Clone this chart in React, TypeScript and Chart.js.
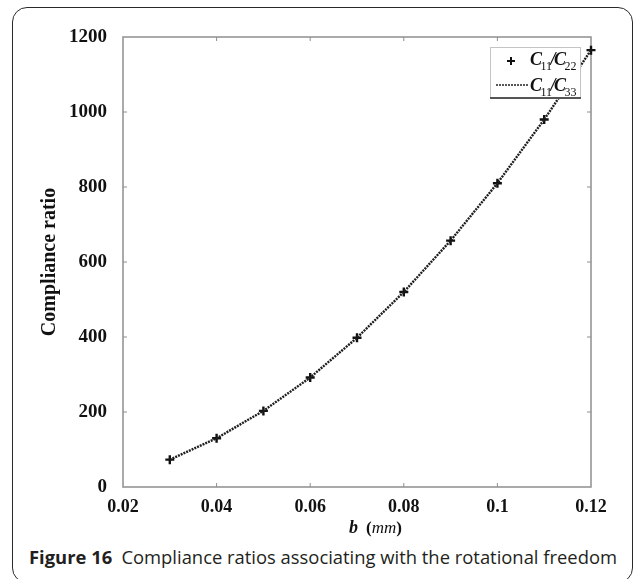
import React, { useEffect, useRef } from "react";
import { Chart, registerables } from "chart.js";

Chart.register(...registerables);

const bValues = [0.03, 0.04, 0.05, 0.06, 0.07, 0.08, 0.09, 0.1, 0.11, 0.12];
const ratioC11C22 = [73, 130, 203, 292, 398, 520, 657, 810, 980, 1165];
const ratioC11C33 = [73, 130, 203, 292, 398, 520, 657, 810, 980, 1165];
const xTicks = [0.02, 0.04, 0.06, 0.08, 0.1, 0.12];
const xTickLabels = ["0.02", "0.04", "0.06", "0.08", "0.1", "0.12"];
const yTicks = [0, 200, 400, 600, 800, 1000, 1200];
const yTickLabels = ["0", "200", "400", "600", "800", "1000", "1200"];

const SERIF = "'Liberation Serif', 'Times New Roman', serif";

function drawRatio(ctx: CanvasRenderingContext2D, x: number, y: number, sub1: string, sub2: string) {
  const big = `italic bold 18px ${SERIF}`;
  const small = `12px ${SERIF}`;
  ctx.textBaseline = "alphabetic";
  ctx.textAlign = "left";
  let cx = x;
  ctx.font = big;
  ctx.fillText("C", cx, y);
  cx += ctx.measureText("C").width - 1.5;
  ctx.font = small;
  ctx.fillText(sub1, cx, y + 5);
  cx += ctx.measureText(sub1).width - 1.5;
  ctx.font = big;
  ctx.fillText("/", cx, y);
  cx += ctx.measureText("/").width - 1.5;
  ctx.fillText("C", cx, y);
  cx += ctx.measureText("C").width - 1.5;
  ctx.font = small;
  ctx.fillText(sub2, cx, y + 5);
}

const decorPlugin = {
  id: "decor",
  beforeDatasetsDraw(chart: any) {
    const { ctx, chartArea, scales } = chart;
    const { left, right, top, bottom } = chartArea;
    const xs = scales.x;
    const ys = scales.y;
    ctx.save();
    ctx.strokeStyle = "#8e8e8e";
    ctx.lineWidth = 1.5;
    ctx.strokeRect(left, top, right - left, bottom - top);
    ctx.lineWidth = 1;
    ctx.beginPath();
    xs.ticks.forEach((t: any) => {
      const px = xs.getPixelForValue(t.value);
      if (px <= left + 1 || px >= right - 1) return;
      ctx.moveTo(px, bottom);
      ctx.lineTo(px, bottom - 4);
      ctx.moveTo(px, top);
      ctx.lineTo(px, top + 4);
    });
    ys.ticks.forEach((t: any) => {
      const py = ys.getPixelForValue(t.value);
      if (py >= bottom - 1 || py <= top + 1) return;
      ctx.moveTo(left, py);
      ctx.lineTo(left + 4, py);
      ctx.moveTo(right, py);
      ctx.lineTo(right - 4, py);
    });
    ctx.stroke();
    ctx.restore();
  },
  afterDraw(chart: any) {
    const { ctx, chartArea } = chart;
    const { right, top, bottom } = chartArea;
    ctx.save();
    // legend box
    const bx = right - 101;
    const by = top + 10;
    const bw = 90;
    const bh = 50;
    ctx.fillStyle = "#ffffff";
    ctx.fillRect(bx, by, bw, bh);
    ctx.strokeStyle = "#c4c4c4";
    ctx.lineWidth = 1;
    ctx.strokeRect(bx + 0.5, by + 0.5, bw, bh);
    ctx.strokeStyle = "#555";
    ctx.lineWidth = 2;
    ctx.beginPath();
    ctx.moveTo(bx, by + bh + 1);
    ctx.lineTo(bx + bw + 1, by + bh + 1);
    ctx.stroke();
    // marker
    ctx.strokeStyle = "#111";
    ctx.lineWidth = 2;
    ctx.beginPath();
    ctx.moveTo(bx + 17, by + 14);
    ctx.lineTo(bx + 25, by + 14);
    ctx.moveTo(bx + 21, by + 10);
    ctx.lineTo(bx + 21, by + 18);
    ctx.stroke();
    // dotted line
    ctx.setLineDash([2, 1]);
    ctx.lineWidth = 1.6;
    ctx.strokeStyle = "#222";
    ctx.beginPath();
    ctx.moveTo(bx + 6, by + 38);
    ctx.lineTo(bx + 39, by + 38);
    ctx.stroke();
    ctx.setLineDash([]);
    ctx.fillStyle = "#111";
    drawRatio(ctx, bx + 40, by + 18, "11", "22");
    drawRatio(ctx, bx + 40, by + 44, "11", "33");

    // x title: b (mm)
    const ty = bottom + 46;
    ctx.textBaseline = "alphabetic";
    ctx.textAlign = "left";
    let x = 349;
    ctx.font = `italic bold 18px ${SERIF}`;
    ctx.fillText("b", x, ty);
    x += ctx.measureText("b").width + 8;
    ctx.font = `bold 17px ${SERIF}`;
    ctx.fillText("(", x, ty);
    x += ctx.measureText("(").width;
    ctx.font = `italic 17px ${SERIF}`;
    ctx.fillText("mm", x, ty);
    x += ctx.measureText("mm").width;
    ctx.font = `bold 17px ${SERIF}`;
    ctx.fillText(")", x, ty);

    // y title
    ctx.translate(50, (top + bottom) / 2);
    ctx.rotate(-Math.PI / 2);
    ctx.textAlign = "center";
    ctx.textBaseline = "middle";
    ctx.font = `bold 20px ${SERIF}`;
    ctx.fillText("Compliance ratio", 0, 0);
    ctx.restore();
  },
};

export default function App() {
  const ref = useRef<HTMLCanvasElement | null>(null);

  useEffect(() => {
    if (!ref.current) return;
    const chart = new Chart(ref.current, {
      type: "line",
      data: {
        datasets: [
          {
            label: "C11/C33",
            data: bValues.map((b, i) => ({ x: b, y: ratioC11C33[i] })),
            borderColor: "#1e1e1e",
            borderWidth: 2.4,
            borderDash: [2, 1],
            pointRadius: 0,
            showLine: true,
            fill: false,
            tension: 0,
            clip: false as any,
          },
          {
            label: "C11/C22",
            data: bValues.map((b, i) => ({ x: b, y: ratioC11C22[i] })),
            showLine: false,
            pointStyle: "cross",
            pointRadius: 4.5,
            pointBorderWidth: 2.4,
            pointBorderColor: "#111",
            pointBackgroundColor: "#111",
            borderColor: "#111",
            clip: false as any,
          },
        ],
      },
      options: {
        animation: false,
        responsive: false,
        devicePixelRatio: 1,
        layout: { padding: { left: 0, right: 44, top: 37, bottom: 0 } },
        plugins: { legend: { display: false }, tooltip: { enabled: false } },
        scales: {
          x: {
            type: "linear",
            min: 0.02,
            max: 0.12,
            grid: { display: false },
            border: { display: false },
            afterBuildTicks: (s: any) => {
              s.ticks = xTicks.map((v) => ({ value: v }));
            },
            afterFit: (s: any) => {
              s.height = 53;
            },
            ticks: {
              padding: 2,
              color: "#111",
              font: { family: SERIF, weight: "bold", size: 18 },
              maxRotation: 0,
              autoSkip: false,
              callback: (v: any) => {
                const i = xTicks.findIndex((t) => Math.abs(t - Number(v)) < 1e-9);
                return i >= 0 ? xTickLabels[i] : "";
              },
            },
          },
          y: {
            type: "linear",
            min: 0,
            max: 1200,
            grid: { display: false },
            border: { display: false },
            afterBuildTicks: (s: any) => {
              s.ticks = yTicks.map((v) => ({ value: v }));
            },
            afterFit: (s: any) => {
              s.width = 123;
            },
            ticks: {
              padding: 8,
              color: "#111",
              font: { family: SERIF, weight: "bold", size: 19 },
              autoSkip: false,
              callback: (v: any) => {
                const i = yTicks.indexOf(Number(v));
                return i >= 0 ? yTickLabels[i] : "";
              },
            },
          },
        },
      },
      plugins: [decorPlugin as any],
    });
    return () => chart.destroy();
  }, []);

  return (
    <div style={{ position: "absolute", left: 0, top: 0, width: 635, height: 579, overflow: "hidden", background: "#fff" }}>
      <div
        style={{
          position: "absolute",
          left: 12,
          top: 7,
          width: 621,
          height: 576,
          border: "1.2px solid #2a2a2a",
          borderRadius: 15,
          boxSizing: "border-box",
        }}
      />
      <canvas ref={ref} width={635} height={540} style={{ position: "absolute", left: 0, top: 0, width: 635, height: 540 }} />
      <div
        style={{
          position: "absolute",
          left: 29,
          top: 544,
          whiteSpace: "nowrap",
          fontFamily: "'Open Sans', sans-serif",
          fontSize: 18.4,
          lineHeight: "26px",
          color: "#231f20",
        }}
      >
        <span style={{ fontWeight: 700 }}>Figure 16</span>
        <span>{"\u2002"}Compliance ratios associating with the rotational freedom</span>
      </div>
    </div>
  );
}
